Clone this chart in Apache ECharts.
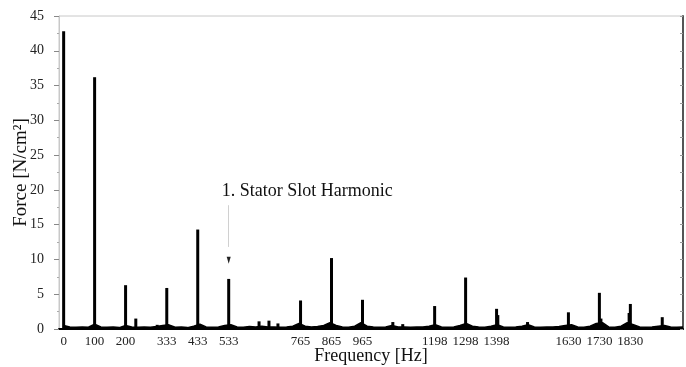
<!DOCTYPE html>
<html><head><meta charset="utf-8">
<script src="https://cdn.jsdelivr.net/npm/echarts@6/dist/echarts.min.js"></script>
<style>html,body{margin:0;padding:0;background:#fff}#c{width:686px;height:367px}</style>
</head><body><div id="c"></div>
<script>
// ---- data ----
var xTickLabels = [0, 100, 200, 333, 433, 533, 765, 865, 965, 1198, 1298, 1398, 1630, 1730, 1830];
var peakFreq = [0, 100, 200, 233, 302, 333, 433, 533, 631, 663, 692, 765, 865, 965, 1063, 1095, 1198, 1298, 1398, 1402, 1498, 1630, 1730, 1735, 1826, 1830, 1933];
var peakVal  = [42.8, 36.2, 6.3, 1.5, 0.6, 5.9, 14.3, 7.2, 1.1, 1.2, 0.8, 4.1, 10.2, 4.2, 1.0, 0.7, 3.3, 7.4, 2.9, 2.0, 1.0, 2.4, 5.2, 1.5, 2.3, 3.6, 1.7];
var noiseFreq = [0,20,40,60,80,100,120,140,160,180,200,220,240,260,280,300,320,340,360,380,400,420,440,460,480,500,520,540,560,580,600,620,640,660,680,700,720,740,760,780,800,820,840,860,880,900,920,940,960,980,1000,1020,1040,1060,1080,1100,1120,1140,1160,1180,1200,1220,1240,1260,1280,1300,1320,1340,1360,1380,1400,1420,1440,1460,1480,1500,1520,1540,1560,1580,1600,1620,1640,1660,1680,1700,1720,1740,1760,1780,1800,1820,1840,1860,1880,1900,1920,1940,1960,1980,2000];
var noiseVal = [0.5,0.3,0.25,0.3,0.25,0.7,0.3,0.25,0.3,0.2,0.5,0.3,0.25,0.3,0.25,0.35,0.5,0.6,0.25,0.3,0.2,0.4,0.7,0.3,0.25,0.3,0.5,0.6,0.3,0.25,0.35,0.3,0.4,0.3,0.3,0.25,0.3,0.4,0.8,0.4,0.3,0.35,0.5,0.9,0.5,0.3,0.25,0.4,0.9,0.4,0.3,0.25,0.3,0.5,0.3,0.3,0.25,0.3,0.3,0.4,0.6,0.3,0.25,0.3,0.5,0.8,0.4,0.3,0.25,0.4,0.6,0.3,0.25,0.3,0.4,0.6,0.3,0.25,0.3,0.3,0.35,0.5,0.6,0.3,0.25,0.4,0.8,0.9,0.3,0.25,0.4,0.9,0.6,0.3,0.25,0.3,0.4,0.5,0.3,0.25,0.3];
var annotation = {text: '1. Stator Slot Harmonic', freq: 533, textY: 19.8, lineTop: 17.8, lineBottom: 11.8, arrowY: 9.9};

var peaks = peakFreq.map(function (f, i) { return [f, peakVal[i]]; });
var noise = noiseFreq.map(function (f, i) { return [f, noiseVal[i]]; });

var FONT = '"Liberation Serif", "Times New Roman", serif';
var chart = echarts.init(document.getElementById('c'), null, {renderer: 'canvas'});
chart.setOption({
  animation: false,
  backgroundColor: '#fff',
  grid: {left: 59, right: 3, top: 16, bottom: 38, show: true, borderColor: '#c8c8c8', borderWidth: 1,
         containLabel: false, outerBoundsMode: 'none'},
  xAxis: {
    type: 'value', min: -15, max: 2000,
    name: 'Frequency [Hz]', nameLocation: 'middle', nameGap: 18, nameMoveOverlap: false,
    nameTextStyle: {fontFamily: FONT, fontSize: 18, color: '#111'},
    axisLine: {show: true, onZero: false, lineStyle: {color: '#000', width: 2}},
    axisTick: {show: false},
    splitLine: {show: false},
    axisLabel: {customValues: xTickLabels, formatter: function (v) { return String(v); },
                fontFamily: FONT, fontSize: 13, color: '#222', margin: 6, hideOverlap: false}
  },
  yAxis: [{
    type: 'value', min: 0, max: 45, interval: 5, position: 'left',
    name: 'Force [N/cm²]', nameLocation: 'middle', nameGap: 28, nameRotate: 90, nameMoveOverlap: false,
    nameTextStyle: {fontFamily: FONT, fontSize: 19, color: '#111'},
    axisLine: {show: true, onZero: false, lineStyle: {color: '#c8c8c8', width: 1}},
    axisTick: {show: true, length: 5, lineStyle: {color: '#888'}},
    minorTick: {show: true, splitNumber: 2, length: 2, lineStyle: {color: '#aaa'}},
    splitLine: {show: false},
    axisLabel: {fontFamily: FONT, fontSize: 14, color: '#222', margin: 15}
  }, {
    type: 'value', min: 0, max: 45, interval: 2.5, position: 'right',
    axisLine: {show: true, onZero: false, lineStyle: {color: '#555', width: 2}},
    axisTick: {show: true, inside: true, length: 3, lineStyle: {color: '#999'}},
    axisLabel: {show: false}, splitLine: {show: false}
  }],
  series: [{
    type: 'line', data: noise, symbol: 'none', yAxisIndex: 0,
    lineStyle: {color: '#000', width: 1.5}, areaStyle: {color: '#000', opacity: 1}, z: 2
  }, {
    type: 'bar', data: peaks, barWidth: 3, yAxisIndex: 0,
    itemStyle: {color: '#000'}, z: 3,
    markLine: {
      silent: true, symbol: ['none', 'none'], label: {show: false},
      lineStyle: {color: '#d0d0d0', width: 1, type: 'solid'},
      data: [[{coord: [annotation.freq, annotation.lineTop]}, {coord: [annotation.freq, annotation.lineBottom]}]]
    },
    markPoint: {
      silent: true,
      data: [{
        coord: [annotation.freq, annotation.arrowY], symbol: 'triangle', symbolRotate: 180,
        symbolSize: [4, 7], itemStyle: {color: '#222'}, label: {show: false}
      }, {
        coord: [annotation.freq, annotation.textY], symbol: 'circle', symbolSize: 0,
        label: {show: true, position: 'inside', formatter: annotation.text, align: 'left',
                offset: [-7, 0], fontFamily: FONT, fontSize: 18, color: '#111'}
      }]
    }
  }]
});
</script></body></html>
